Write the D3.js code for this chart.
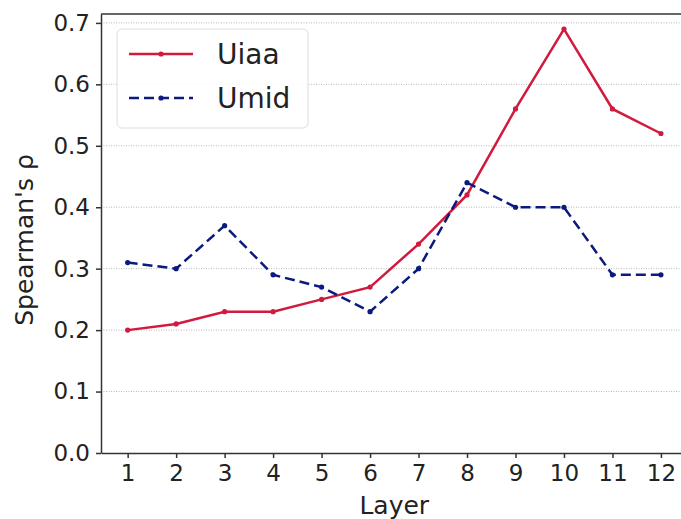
<!DOCTYPE html>
<html>
<head>
<meta charset="utf-8">
<script src="https://cdn.jsdelivr.net/npm/d3@7"></script>
<style>
  body { margin: 0; background: #fff; }
  text { font-family: "DejaVu Sans", sans-serif; fill: #222; }
</style>
</head>
<body>
<div id="chart"></div>
<script>
const WIDTH = 681;
const HEIGHT = 519;

// data
const layers = [1, 2, 3, 4, 5, 6, 7, 8, 9, 10, 11, 12];
const uiaa = [0.20, 0.21, 0.23, 0.23, 0.25, 0.27, 0.34, 0.42, 0.56, 0.69, 0.56, 0.52];
const umid = [0.31, 0.30, 0.37, 0.29, 0.27, 0.23, 0.30, 0.44, 0.40, 0.40, 0.29, 0.29];
const yTicks = [0.0, 0.1, 0.2, 0.3, 0.4, 0.5, 0.6, 0.7];
const seriesNames = ["Uiaa", "Umid"];

const margin = { left: 101, top: 14, bottom: 66 };

const x = d3.scaleLinear()
  .domain([0.45, 12.55])
  .range([margin.left, 687.6]);

const y = d3.scaleLinear()
  .domain([0, 0.7145])
  .range([HEIGHT - margin.bottom, margin.top]);

const svg = d3.select("#chart")
  .append("svg")
  .attr("width", WIDTH)
  .attr("height", HEIGHT);

// grid lines
svg.append("g")
  .selectAll("line")
  .data(yTicks.slice(1))
  .enter()
  .append("line")
  .attr("x1", x(0.45))
  .attr("x2", x(12.55))
  .attr("y1", d => y(d))
  .attr("y2", d => y(d))
  .attr("stroke", "#b8b8b8")
  .attr("stroke-width", 1)
  .attr("stroke-dasharray", "1,1.5");

// axes
const xAxis = svg.append("g")
  .attr("transform", `translate(0,${y(0)})`)
  .call(d3.axisBottom(x).tickValues(layers).tickSize(5).tickPadding(7).tickSizeOuter(0));

const yAxis = svg.append("g")
  .attr("transform", `translate(${x(0.45)},0)`)
  .call(d3.axisLeft(y).tickValues(yTicks).tickFormat(d3.format(".1f")).tickSize(5).tickPadding(6).tickSizeOuter(0));

[xAxis, yAxis].forEach(a => {
  a.selectAll("text").attr("font-size", 23).style("fill", "#222");
  a.selectAll("line").attr("stroke", "#333").attr("stroke-width", 1.5);
  a.select(".domain").attr("stroke", "#333").attr("stroke-width", 1.5);
});

// top spine
svg.append("line")
  .attr("x1", x(0.45)).attr("x2", x(12.55))
  .attr("y1", y(0.7145)).attr("y2", y(0.7145))
  .attr("stroke", "#333").attr("stroke-width", 1.5);

// lines
const line = d3.line()
  .x((d, i) => x(layers[i]))
  .y(d => y(d));

const series = [
  { name: seriesNames[0], values: uiaa, color: "#d11a3e", dash: null },
  { name: seriesNames[1], values: umid, color: "#0c1a7e", dash: "10,5" }
];

series.forEach(s => {
  svg.append("path")
    .datum(s.values)
    .attr("d", line)
    .attr("fill", "none")
    .attr("stroke", s.color)
    .attr("stroke-width", 2.5)
    .attr("stroke-dasharray", s.dash);

  svg.append("g")
    .selectAll("circle")
    .data(s.values)
    .enter()
    .append("circle")
    .attr("cx", (d, i) => x(layers[i]))
    .attr("cy", d => y(d))
    .attr("r", 2.6)
    .attr("fill", s.color);
});

// axis labels
svg.append("text")
  .attr("x", x(6.5))
  .attr("y", 514)
  .attr("text-anchor", "middle")
  .attr("font-size", 25)
  .text("Layer");

svg.append("text")
  .attr("transform", `translate(33,240) rotate(-90)`)
  .attr("text-anchor", "middle")
  .attr("font-size", 25)
  .text("Spearman's ρ");

// legend
const legend = svg.append("g");
legend.append("rect")
  .attr("x", 117).attr("y", 29)
  .attr("width", 191).attr("height", 99)
  .attr("rx", 5)
  .attr("fill", "#fff")
  .attr("fill-opacity", 0.85)
  .attr("stroke", "#ddd")
  .attr("stroke-width", 1);

series.forEach((s, i) => {
  const ly = 54 + i * 44;
  legend.append("line")
    .attr("x1", 129).attr("x2", 193)
    .attr("y1", ly).attr("y2", ly)
    .attr("stroke", s.color)
    .attr("stroke-width", 2.5)
    .attr("stroke-dasharray", s.dash);
  legend.append("circle")
    .attr("cx", 161).attr("cy", ly).attr("r", 2.6)
    .attr("fill", s.color);
  legend.append("text")
    .attr("x", 217).attr("y", ly + 10)
    .attr("font-size", 28)
    .text(s.name);
});
</script>
</body>
</html>
